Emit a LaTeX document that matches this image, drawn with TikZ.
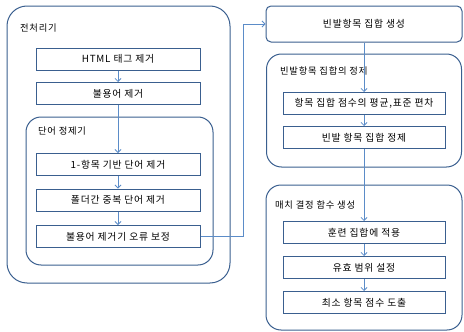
\documentclass[tikz,border=0pt]{standalone}
\usepackage{fontspec}
\setmainfont{Noto Sans CJK KR}[LetterSpace=8]
\usetikzlibrary{arrows.meta}
\definecolor{boxblue}{HTML}{3A5F8F}
\definecolor{linkblue}{HTML}{5B8CC8}
\begin{document}
\begin{tikzpicture}[x=1pt,y=-1pt,
  stepbox/.style={draw=boxblue, line width=1pt, fill=white, minimum width=164pt, minimum height=22pt, inner sep=0pt, font=\fontsize{9.8}{11}\selectfont},
  rstepbox/.style={stepbox, minimum width=162pt},
  group/.style={draw=boxblue, line width=1pt, inner sep=0pt, rounded corners=15pt},
  grouplabel/.style={anchor=west, inner sep=0pt, font=\fontsize{9.3}{10}\selectfont},
  link/.style={draw=linkblue, line width=0.8pt, -{Straight Barb[length=3pt,width=6pt]}}]
\useasboundingbox (0,0) rectangle (464,332);
% containers
\node[group, rounded corners=20pt, minimum width=223pt, minimum height=277pt] (pre) at (118.5,144.5) {};
\node[group, minimum width=187pt, minimum height=148pt] (word) at (119.5,191) {};
\node[group, minimum width=195pt, minimum height=113pt] (refine) at (364,110.5) {};
\node[group, minimum width=196pt, minimum height=145pt] (match) at (364,257.5) {};
% labels
\node[grouplabel] (lpre) at (20,28) {전처리기};
\node[grouplabel] (lword) at (38,131) {단어 정제기};
\node[grouplabel] (lrefine) at (280,71) {빈발항목 집합의 정제};
\node[grouplabel] (lmatch) at (275,205) {매치 결정 함수 생성};
% left boxes
\node[stepbox] (html) at (118,59) {HTML 태그 제거};
\node[stepbox] (stop) at (118,93.5) {불용어 제거};
\node[stepbox] (one) at (118,164.5) {1-항목 기반 단어 제거};
\node[stepbox] (folder) at (118,200) {폴더간 중복 단어 제거};
\node[stepbox] (fix) at (118,236.5) {불용어 제거기 오류 보정};
% right boxes
\node[stepbox, rounded corners=5pt, minimum width=196pt, minimum height=36pt] (gen) at (364,24) {빈발항목 집합 생성};
\node[rstepbox] (mean) at (364,103.5) {항목 집합 점수의 평균,표준 편차};
\node[rstepbox] (freq) at (364,137.5) {빈발 항목 집합 정제};
\node[rstepbox] (train) at (364,232.5) {훈련 집합에 적용};
\node[rstepbox] (valid) at (364,267.5) {유효 범위 설정};
\node[rstepbox] (min) at (364,302.5) {최소 항목 점수 도출};
% connectors
\coordinate (c1) at (243,236.5);
\coordinate (c2) at (243,24);
\draw[link] (html) -- (stop);
\draw[link] (stop) -- (one);
\draw[link] (one) -- (folder);
\draw[link] (folder) -- (fix);
\draw[link] (fix.east) -- (c1) -- (c2) -- (gen.west);
\draw[link] (gen) -- (mean);
\draw[link] (mean) -- (freq);
\draw[link] (freq) -- (train);
\draw[link] (train) -- (valid);
\draw[link] (valid) -- (min);
\end{tikzpicture}
\end{document}
